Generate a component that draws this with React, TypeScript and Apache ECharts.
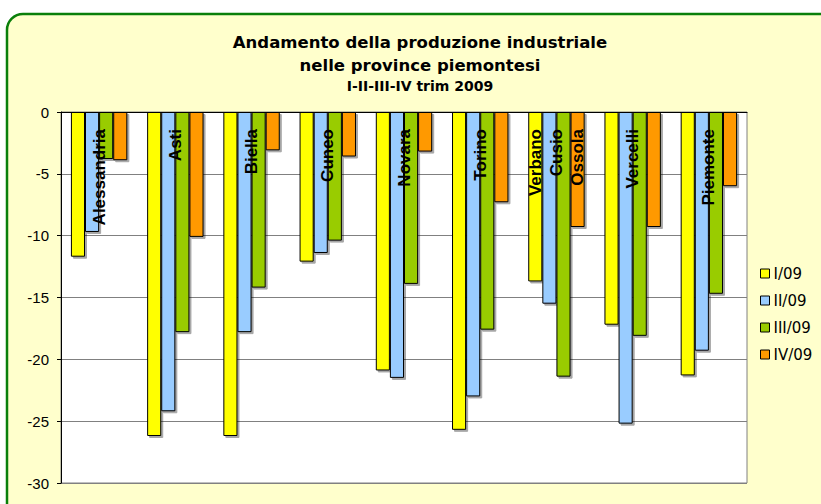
import React, { useEffect, useRef } from "react";
import * as echarts from "echarts";

const categories = [
  "Alessandria",
  "Asti",
  "Biella",
  "Cuneo",
  "Novara",
  "Torino",
  "Verbano\nCusio\nOssola",
  "Vercelli",
  "Piemonte",
];
const seriesNames = ["I/09", "II/09", "III/09", "IV/09"];
const q1 = [-11.7, -26.2, -26.2, -12.1, -20.9, -25.7, -13.7, -17.2, -21.3];
const q2 = [-9.7, -24.2, -17.8, -11.4, -21.5, -23.0, -15.5, -25.2, -19.3];
const q3 = [-3.8, -17.8, -14.2, -10.4, -13.9, -17.6, -21.4, -18.1, -14.7];
const q4 = [-3.9, -10.1, -3.1, -3.6, -3.2, -7.3, -9.3, -9.3, -6.0];
const seriesValues = [q1, q2, q3, q4];
const colors = ["#FFFF00", "#99CCFF", "#99CC00", "#FF9900"];
const yTicks = { min: -30, max: 0, interval: 5 };

export default function App() {
  const ref = useRef<HTMLDivElement>(null);
  useEffect(() => {
    if (!ref.current) return;
    const chart = echarts.init(ref.current, undefined, { renderer: "svg" });
    const titleFont = "'DejaVu Sans', sans-serif";
    chart.setOption({
      animation: false,
      graphic: [
        {
          type: "rect",
          z: -10,
          silent: true,
          shape: { x: 7, y: 14, width: 840, height: 520, r: 16 },
          style: { fill: "#FFFFCC", stroke: "#0A7F0A", lineWidth: 2.5 },
        },
        {
          type: "text",
          x: 420,
          y: 42,
          style: {
            text: "Andamento della produzione industriale",
            font: "bold 16.5px " + titleFont,
            fill: "#000",
            align: "center",
            verticalAlign: "middle",
          },
        },
        {
          type: "text",
          x: 420,
          y: 65,
          style: {
            text: "nelle province piemontesi",
            font: "bold 16.5px " + titleFont,
            fill: "#000",
            align: "center",
            verticalAlign: "middle",
          },
        },
        {
          type: "text",
          x: 420,
          y: 86,
          style: {
            text: "I-II-III-IV trim 2009",
            font: "bold 14px " + titleFont,
            fill: "#000",
            align: "center",
            verticalAlign: "middle",
          },
        },
      ],
      legend: {
        orient: "vertical",
        left: 755,
        top: 261,
        itemWidth: 9,
        itemHeight: 9,
        itemGap: 12,
        icon: "rect",
        itemStyle: { borderColor: "#000", borderWidth: 1, shadowBlur: 0, shadowOffsetX: 0, shadowOffsetY: 0 },
        textStyle: { fontFamily: "'DejaVu Sans', sans-serif", fontSize: 15, color: "#000", padding: [0, 0, 0, -1] },
        data: seriesNames,
      },
      grid: {
        left: 61,
        top: 112,
        right: 74,
        bottom: 21,
        show: true,
        backgroundColor: "#FFFFFF",
        borderColor: "#808080",
        borderWidth: 1,
      },
      xAxis: {
        type: "category",
        position: "top",
        data: categories,
        z: 10,
        axisLine: { lineStyle: { color: "#000", width: 1 } },
        axisTick: { inside: true, length: 4, lineStyle: { color: "#000" } },
        axisLabel: {
          inside: true,
          rotate: 90,
          margin: 17,
          interval: 0,
          fontFamily: "'Liberation Sans', Arial, sans-serif",
          fontWeight: "bold",
          fontSize: 17,
          lineHeight: 21,
          color: "#000",
        },
        splitLine: { show: false },
      },
      yAxis: {
        type: "value",
        min: yTicks.min,
        max: yTicks.max,
        interval: yTicks.interval,
        axisLine: { show: true, lineStyle: { color: "#000" } },
        axisTick: { show: true, length: 4, lineStyle: { color: "#000" } },
        axisLabel: {
          margin: 12,
          fontFamily: "'Liberation Sans', Arial, sans-serif",
          fontSize: 15,
          color: "#000",
        },
        splitLine: { show: true, lineStyle: { color: "#808080", width: 1 } },
      },
      series: seriesNames.map((name, i) => ({
        name,
        type: "bar",
        data: seriesValues[i],
        barGap: "0%",
        barCategoryGap: "26%",
        itemStyle: {
          color: colors[i],
          borderColor: "#000",
          borderWidth: 1,
          shadowColor: "rgba(0,0,0,0.35)",
          shadowOffsetX: 2,
          shadowOffsetY: 2,
          shadowBlur: 1,
        },
      })),
    });
    return () => chart.dispose();
  }, []);
  return (
    <div
      ref={ref}
      style={{ position: "absolute", left: 0, top: 0, width: 821, height: 504, background: "#fff" }}
    />
  );
}
